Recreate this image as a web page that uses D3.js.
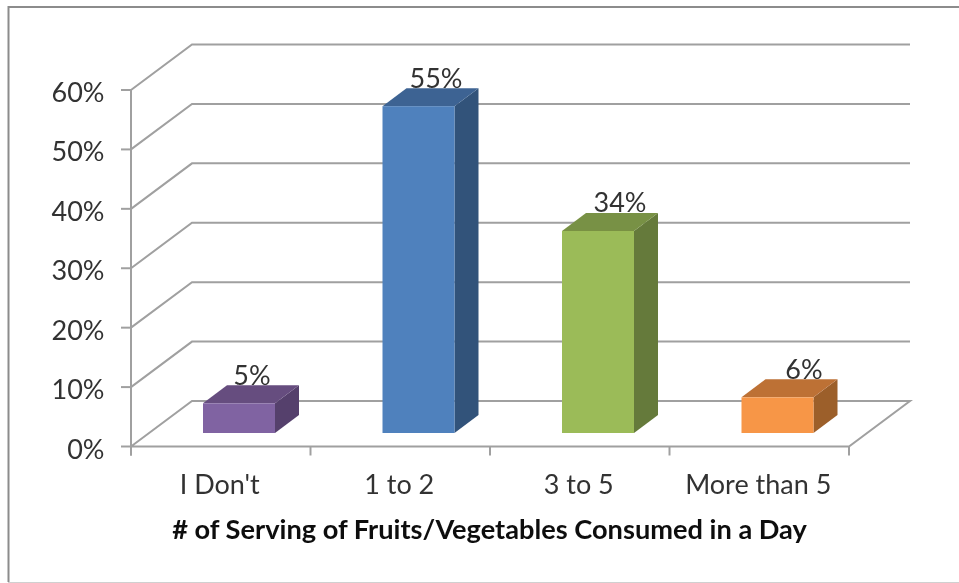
<!DOCTYPE html>
<html><head><meta charset="utf-8">
<script src="https://cdn.jsdelivr.net/npm/d3@7"></script>
<style>html,body{margin:0;padding:0;background:#fff}svg{display:block}text{font-family:Lato,"Open Sans",sans-serif}</style>
</head><body><svg id="c" width="959" height="583"></svg>
<script>
const categories = ["I Don't","1 to 2","3 to 5","More than 5"];
const values = [5,55,34,6];
const frontColors = ["#8064a2","#4f81bd","#9bbb59","#f79646"];
const topColors = ["#664d7f","#3e6493","#789144","#bd7136"];
const sideColors = ["#54406c","#31527a","#657a3a","#9c5e2b"];
const yTicks = [0,10,20,30,40,50,60];
const xTitle = "# of Serving of Fruits/Vegetables Consumed in a Day";

const svg=d3.select("#c");
const blur=svg.append("defs").append("filter").attr("id","b").attr("x","-5%").attr("y","-5%").attr("width","110%").attr("height","110%");
blur.append("feGaussianBlur").attr("stdDeviation",0.55);
const g=svg.append("g").attr("filter","url(#b)");
const x=d3.scaleBand().domain(categories).range([131,849]);
const labelX=d3.scalePoint().domain(categories).range([252,804]);
const y=d3.scaleLinear().domain([0,60]).range([446.5,90]);
const dx=61,dy=-45.5, bdx=24, bdy=-18;
const barW=72, barInset=72, barLift=13.5, fs=27;
const grid="#a0a0a0";

// frame
g.append("path").attr("d","M8.5,582 V7 H959").attr("fill","none").attr("stroke","#8c8c8c").attr("stroke-width",2);
g.append("path").attr("d","M8,582.5 H959").attr("fill","none").attr("stroke","#d0d0d0").attr("stroke-width",1);

// gridlines
yTicks.forEach(t=>{
  if(t===0) return;
  g.append("path").attr("fill","none").attr("stroke",grid).attr("stroke-width",2)
   .attr("d",`M${x.range()[0]},${y(t)} l${dx},${dy} H${x.range()[1]+dx}`);
});
// floor
g.append("path").attr("fill","none").attr("stroke",grid).attr("stroke-width",2)
 .attr("d",`M${x.range()[0]},${y(0)} l${dx},${dy} H${x.range()[1]+dx} L${x.range()[1]},${y(0)} H${x.range()[0]}`);
// y axis line + ticks
g.append("line").attr("x1",131).attr("x2",131).attr("y1",y(60)).attr("y2",y(0)+9).attr("stroke",grid).attr("stroke-width",2);
yTicks.forEach(t=>{
  g.append("line").attr("x1",121).attr("x2",131).attr("y1",y(t)).attr("y2",y(t)).attr("stroke",grid).attr("stroke-width",2);
  g.append("text").attr("x",104.5).attr("y",y(t)+12).attr("text-anchor","end").attr("font-size",fs).attr("fill","#333").text(t+"%");
});
// x ticks
[...categories.map(c=>x(c)),x.range()[1]].forEach(v=>{
  g.append("line").attr("x1",v).attr("x2",v).attr("y1",y(0)).attr("y2",y(0)+9).attr("stroke",grid).attr("stroke-width",2);
});
// x labels
categories.forEach(c=>{
  g.append("text").attr("x",x(c)+x.bandwidth()/2-1).attr("y",494).attr("text-anchor","middle").attr("font-size",fs).attr("fill","#333").text(c);
});
g.append("text").attr("x",489.5).attr("y",539).attr("text-anchor","middle").attr("font-size",27.2).attr("font-weight",700).attr("fill","#111").text(xTitle);

// bars
const base=y(0)-barLift;
values.forEach((v,i)=>{
  const x0=x(categories[i])+barInset, x1=x0+barW, h=y(0)-y(v), yt=base-h;
  g.append("path").attr("fill",sideColors[i]).attr("d",`M${x1},${yt} l${bdx},${bdy} V${base+bdy} L${x1},${base} Z`);
  g.append("path").attr("fill",topColors[i]).attr("d",`M${x0},${yt} l${bdx},${bdy} H${x1+bdx} L${x1},${yt} Z`);
  g.append("rect").attr("fill",frontColors[i]).attr("x",x0).attr("y",yt).attr("width",barW).attr("height",h);
  g.append("text").attr("x",labelX(categories[i])).attr("y",yt+bdy-0.5).attr("text-anchor","middle").attr("font-size",fs).attr("fill","#333").text(v+"%");
});
</script></body></html>
